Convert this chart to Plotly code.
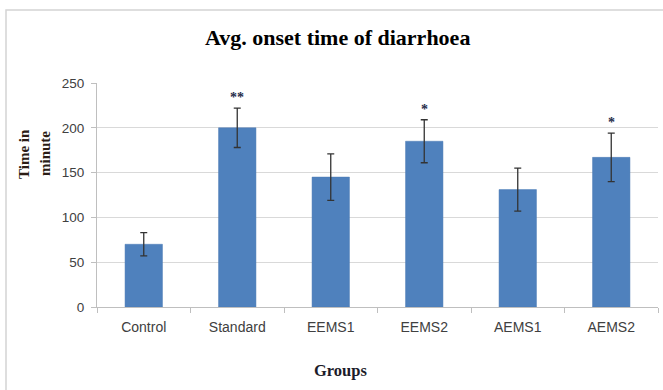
import plotly.graph_objects as go

# Mean onset time (minutes) with SEM per treatment group
groups = ["Control", "Standard", "EEMS1", "EEMS2", "AEMS1", "AEMS2"]
onset_time = [70, 200, 145, 185, 131, 167]
sem = [13, 22, 26, 24, 24, 27]
significance = ["", "**", "", "*", "", "*"]
y_ticks = [0, 50, 100, 150, 200, 250]

W, H = 663, 390
ML, MR, MT, MB = 97, 5, 83, 83
pw = W - ML - MR
ph = H - MT - MB


def px_x(p):
    return (p - ML) / pw


def px_y(p):
    return (H - MB - p) / ph


def label(px, py, text, size, color="#000000", angle=0):
    return dict(x=px_x(px), y=px_y(py), xref="paper", yref="paper",
                xanchor="center", yanchor="middle", text=text,
                showarrow=False, textangle=angle,
                font=dict(family="Liberation Serif", size=size, color=color))


fig = go.Figure()
fig.add_trace(go.Bar(
    x=groups,
    y=onset_time,
    marker=dict(color="#4f81bd", line=dict(color="#4a7ab4", width=0.5)),
    error_y=dict(type="data", array=sem, visible=True,
                 color="#333333", thickness=1.3, width=3.5),
    width=0.4,
    hoverinfo="skip",
))

annotations = []
for g, v, e, s in zip(groups, onset_time, sem, significance):
    if s:
        annotations.append(dict(
            x=g, y=v + e, xref="x", yref="y", text="<b>%s</b>" % s,
            showarrow=False, xanchor="center", yanchor="bottom", yshift=1,
            font=dict(family="Liberation Serif", size=14, color="#1f2d4a"),
        ))

annotations += [
    label(337, 37, "<b>Avg. onset time of diarrhoea</b>", 22),
    label(24, 154, "<b>Time in</b>", 15, "#2b1d16", -90),
    label(45, 154, "<b>minute</b>", 15, "#2b1d16", -90),
    label(340, 370, "<b>Groups</b>", 16.5, "#1c1c2a"),
]

fig.update_layout(
    width=W, height=H,
    margin=dict(l=ML, r=MR, t=MT, b=MB),
    paper_bgcolor="white", plot_bgcolor="white",
    showlegend=False,
    annotations=annotations,
    shapes=[dict(type="rect", xref="paper", yref="paper",
                 x0=px_x(6), x1=px_x(680), y0=px_y(400), y1=px_y(10),
                 line=dict(color="#d4d4d4", width=1.5), layer="below")],
    xaxis=dict(
        showline=True, linecolor="#bfbfbf", linewidth=1,
        ticks="outside", ticklen=5, tickcolor="#bfbfbf",
        tickson="boundaries", showgrid=False, ticklabelstandoff=7,
        tickfont=dict(family="Liberation Sans", size=14, color="#404040"),
    ),
    yaxis=dict(
        range=[0, 250], tickvals=y_ticks,
        showline=True, linecolor="#bfbfbf", linewidth=1,
        ticks="outside", ticklen=5, tickcolor="#bfbfbf",
        showgrid=True, gridcolor="#d9d9d9", gridwidth=1.2,
        zeroline=False, ticklabelstandoff=4,
        tickfont=dict(family="Liberation Sans", size=13.5, color="#404040"),
    ),
)

fig.write_html("out.html")
